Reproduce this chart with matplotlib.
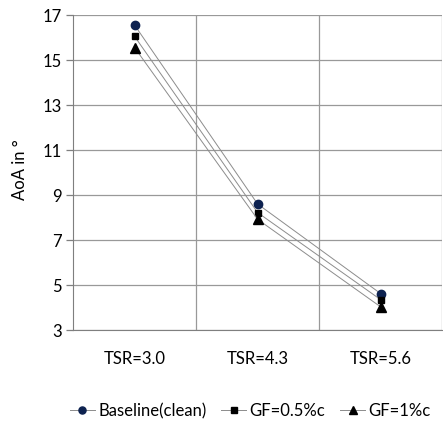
import numpy as np
from matplotlib import pyplot as plt

categories = ['TSR=3.0', 'TSR=4.3', 'TSR=5.6']
baseline = [16.55, 8.6, 4.62]
gf_05 = [16.05, 8.22, 4.35]
gf_1 = [15.55, 7.92, 4.03]
y_ticks = [3, 5, 7, 9, 11, 13, 15, 17]

plt.rcParams['font.family'] = ['Lato', 'DejaVu Sans']
plt.rcParams['font.size'] = 12

fig = plt.figure(figsize=(4.43, 4.25), dpi=100)
ax = fig.add_axes([0.165, 0.2235, 0.833, 0.7412])

x = np.arange(len(categories)) + 0.5
series = [
    (baseline, 'o', '#0d2250', 'Baseline(clean)', 6),
    (gf_05, 's', 'black', 'GF=0.5%c', 5),
    (gf_1, '^', 'black', 'GF=1%c', 6.5),
]
for vals, mk, col, lab, ms in series:
    ax.plot(x, vals, color='#8c8c8c', lw=0.7, ls='-', marker=mk,
            markersize=ms, markerfacecolor=col, markeredgecolor='black' if mk != 'o' else '#0d2250',
            label=lab, zorder=3)

ax.set_xlim(0, 3)
ax.set_ylim(3, 17)
ax.set_yticks(y_ticks)
ax.set_xticks(x)
ax.set_xticklabels(categories)
ax.set_xticks([1, 2, 3], minor=True)
ax.grid(True, which='minor', axis='x', color='#999999', lw=0.9)
ax.grid(True, which='major', axis='y', color='#999999', lw=0.9)
ax.tick_params(axis='x', which='both', length=0, pad=15)
ax.tick_params(axis='y', length=5, width=0.9, color='#7f7f7f', pad=3)
for s in ['top', 'right']:
    ax.spines[s].set_visible(False)
ax.spines['left'].set_color('#7f7f7f')
ax.spines['bottom'].set_color('#7f7f7f')
ax.set_axisbelow(True)

fig.text(0.045, 0.6, 'AoA in °', rotation=90, ha='center', va='center')

handles, labels = ax.get_legend_handles_labels()
fig.legend(handles, labels, loc='center', bbox_to_anchor=(0.565, 0.033), ncol=3,
           frameon=False, handlelength=1.5, handletextpad=0.2, columnspacing=0.9,
           markerscale=0.85)

fig.savefig('out.png', dpi=100)
